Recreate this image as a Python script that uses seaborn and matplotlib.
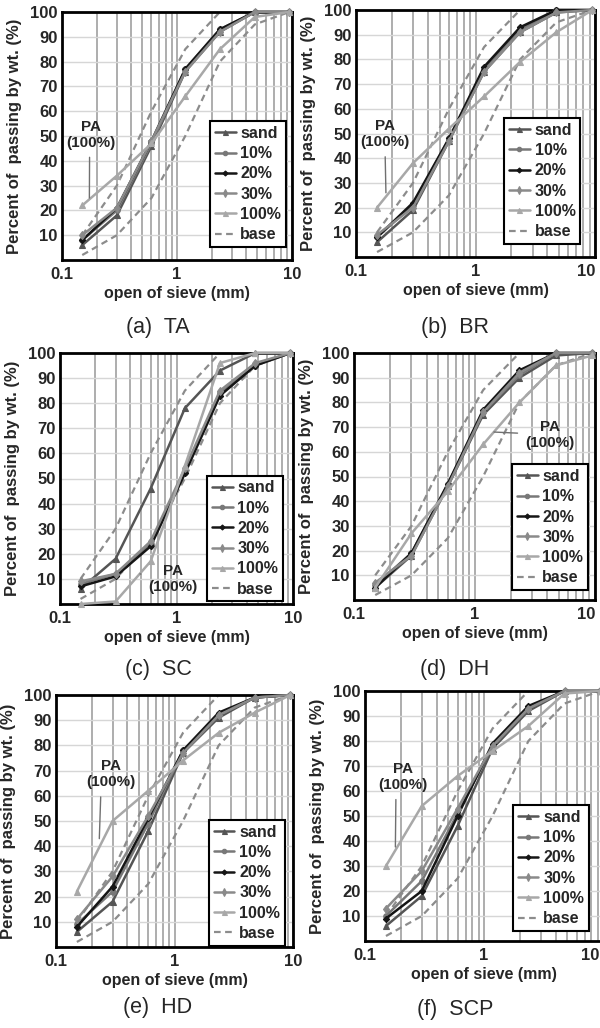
import numpy as np
import matplotlib
matplotlib.use("Agg")
import matplotlib.pyplot as plt
import matplotlib.transforms as mtransforms
import seaborn as sns
from matplotlib.ticker import LogLocator, NullFormatter

# sieve openings (mm) and grading envelope
sieve = [0.15, 0.3, 0.6, 1.18, 2.36, 4.75, 9.5]
base_upper = [10, 30, 60, 85, 100, 100, 100]
base_lower = [2, 10, 25, 50, 80, 95, 100]
series_names = ["sand", "10%", "20%", "30%", "100%"]

# percent passing, rows follow series_names
ta = [[6, 18, 46, 76, 92, 100, 100],
      [8, 20, 47, 77, 93, 100, 100],
      [8, 21, 48, 77, 93, 100, 100],
      [10, 21, 48, 76, 92, 100, 100],
      [22, 34, 47, 66, 85, 98, 100]]
br = [[6, 19, 47, 75, 91, 99, 100],
      [8, 21, 48, 76, 92, 100, 100],
      [8, 22, 48, 77, 93, 100, 100],
      [9, 20, 47, 75, 91, 99, 100],
      [20, 38, 52, 65, 79, 91, 100]]
sc = [[6, 18, 46, 78, 93, 100, 100],
      [8, 12, 24, 53, 84, 95, 100],
      [7, 11, 23, 52, 83, 95, 100],
      [9, 12, 25, 54, 85, 96, 100],
      [0, 1, 17, 55, 96, 100, 100]]
dh = [[5, 18, 46, 75, 90, 99, 100],
      [6, 19, 47, 76, 91, 100, 100],
      [5, 19, 47, 77, 93, 100, 100],
      [7, 18, 46, 76, 92, 100, 100],
      [5, 27, 44, 63, 80, 95, 99]]
hd = [[6, 18, 46, 77, 91, 99, 100],
      [9, 22, 49, 78, 92, 99, 100],
      [8, 24, 51, 78, 93, 99, 100],
      [11, 28, 52, 77, 92, 99, 100],
      [22, 50, 62, 74, 85, 93, 100]]
scp = [[6, 18, 46, 77, 92, 100, 100],
       [10, 24, 51, 78, 93, 100, 100],
       [9, 20, 50, 79, 94, 100, 100],
       [13, 28, 53, 78, 93, 100, 100],
       [30, 54, 66, 76, 86, 99, 100]]
captions = ["(a)  TA", "(b)  BR", "(c)  SC", "(d)  DH", "(e)  HD", "(f)  SCP"]

sns.set_style("white")
plt.rcParams["font.family"] = ["Liberation Sans", "DejaVu Sans"]

W, H = 600, 1028
fig = plt.figure(figsize=(W / 100, H / 100), dpi=100)

styles = {
    "sand": dict(color="#555555", marker="^", ms=4.5),
    "10%": dict(color="#787878", marker="o", ms=4),
    "20%": dict(color="#151515", marker="D", ms=3.2),
    "30%": dict(color="#8a8a8a", marker="d", ms=4.5),
    "100%": dict(color="#a8a8a8", marker="^", ms=4.5),
}

# (left, top, right, bottom) in px, legend anchor, caption center, annotation
panels = [
    (ta, (62, 12, 292, 260), (0.974, 0.052), (158, 327), ((0.179, 50.5), (0.173, 25), (0.47, 0)), False),
    (br, (356, 10, 595, 257), (0.938, 0.053), (455, 328), ((0.175, 49.7), (0.178, 26), (0.5, 0)), True),
    (sc, (60, 353, 293, 604), (0.957, 0.01), (158, 669), ((0.93, 10), (0.486, 12), (0, 0.6)), False),
    (dh, (354, 353, 595, 600), (0.971, 0.04), (455, 669), ((4.2, 66.8), (1.45, 68), (0, 0.55)), True),
    (hd, (56, 695, 293, 947), (0.966, 0.005), (158, 1008), ((0.29, 68.5), (0.232, 43), (0.3, 0)), False),
    (scp, (365, 691, 603, 941), (0.941, 0.04), (455, 1010), ((0.21, 65.6), (0.18, 37.6), (0.35, 0)), True),
]

for (data, (l, t, r, b), leg_anchor, cap_xy, ann, right_col), cap in zip(panels, captions):
    ax = fig.add_axes([l / W, 1 - b / H, (r - l) / W, (b - t) / H])
    ax.set_xscale("log")

    for name, vals in zip(series_names, data):
        st = styles[name]
        sns.lineplot(x=sieve, y=vals, ax=ax, label=name, errorbar=None,
                     color=st["color"], marker=st["marker"], markersize=st["ms"],
                     markeredgecolor=st["color"], markeredgewidth=0.8,
                     linewidth=1.8, clip_on=False, zorder=3)
    for i, curve in enumerate([base_upper, base_lower]):
        sns.lineplot(x=sieve, y=curve, ax=ax, label="base" if i == 0 else None,
                     errorbar=None, color="#8c8c8c", linestyle=(0, (3, 2)),
                     linewidth=1.6, zorder=2.5)

    ax.set_xlim(0.1, 10)
    ax.set_ylim(0, 100)
    ax.set_xticks([0.1, 1, 10], labels=["0.1", "1", "10"], fontsize=12, fontweight="bold")
    ax.xaxis.set_minor_locator(LogLocator(base=10, subs=np.arange(2, 10)))
    ax.xaxis.set_minor_formatter(NullFormatter())
    ax.set_yticks(range(10, 101, 10), labels=[str(v) for v in range(10, 101, 10)],
                  fontsize=12, fontweight="bold")
    ax.tick_params(which="both", length=0)
    ax.tick_params(axis="x", pad=5)
    ax.tick_params(axis="y", pad=3)
    if right_col:
        last = ax.xaxis.get_major_ticks()[-1].label1
        last.set_horizontalalignment("right")
        if r > W:
            # keep the "10" inside the picture
            shift = mtransforms.ScaledTranslation(-(r - W + 1) / 100, 0, fig.dpi_scale_trans)
            last.set_transform(last.get_transform() + shift)

    ax.set_axisbelow(True)
    ax.grid(True, which="both", axis="x", color="#a0a0a0", lw=1.2)
    ax.grid(True, which="major", axis="y", color="#d6d6d6", lw=1.0)
    for sp in ax.spines.values():
        sp.set_linewidth(2)
        sp.set_color("black")

    ax.set_ylabel("Percent of  passing by wt. (%)", fontsize=12, fontweight="bold", labelpad=6)
    ax.set_xlabel("open of sieve (mm)", fontsize=11.5, fontweight="bold", labelpad=3)

    leg = ax.legend(loc="lower right", bbox_to_anchor=leg_anchor, borderaxespad=0,
                    frameon=True, fancybox=False, edgecolor="black", framealpha=1,
                    prop=dict(weight="bold", size=11.5), handlelength=1.3,
                    handletextpad=0.3, labelspacing=0.33, borderpad=0.3,
                    markerscale=0.8)
    leg.get_frame().set_linewidth(1.5)

    text_xy, point_xy, rel = ann
    ax.annotate("PA\n(100%)", xy=point_xy, xytext=text_xy, ha="center", va="center",
                fontsize=11, fontweight="bold", zorder=5,
                arrowprops=dict(arrowstyle="-", color="#707070", lw=1,
                                relpos=rel, shrinkA=3, shrinkB=0))

    fig.text(cap_xy[0] / W, 1 - cap_xy[1] / H, cap, ha="center", va="center", fontsize=15.5)

fig.savefig("out.png", dpi=100)
